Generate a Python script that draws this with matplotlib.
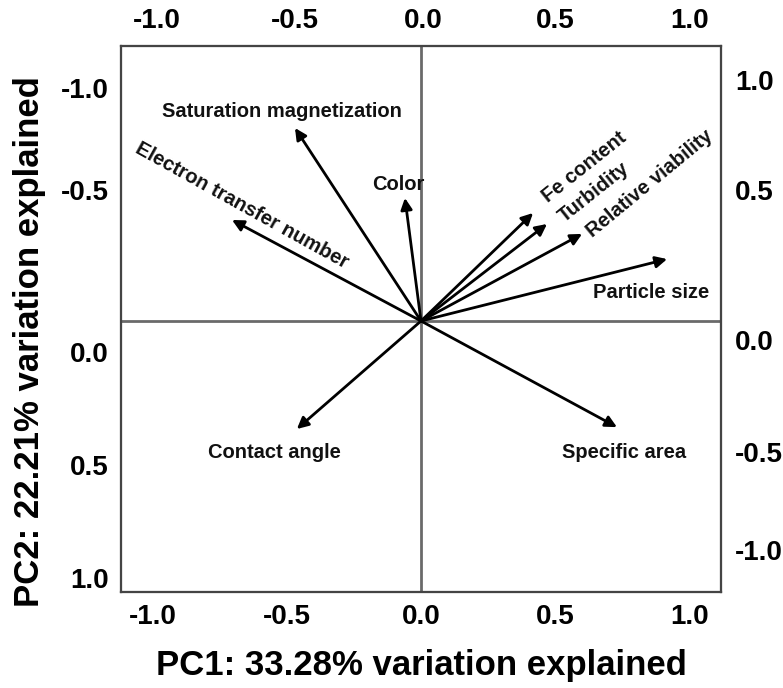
import matplotlib
matplotlib.use("Agg")
import matplotlib.pyplot as plt

plt.rcParams['font.family'] = ['Liberation Sans', 'DejaVu Sans']
plt.rcParams['font.weight'] = 'bold'

# ---- data: PCA loadings (PC1, PC2) ----
variables = ["Saturation magnetization", "Electron transfer number", "Color",
             "Fe content", "Turbidity", "Relative viability", "Particle size",
             "Contact angle", "Specific area"]
pc1 = [-0.470, -0.705, -0.060, 0.418, 0.470, 0.601, 0.918, -0.463, 0.731]
pc2 = [0.720, 0.377, 0.459, 0.403, 0.362, 0.325, 0.231, -0.403, -0.396]

bottom_ticks = [-1.0, -0.5, 0.0, 0.5, 1.0]
bottom_labels = ["-1.0", "-0.5", "0.0", "0.5", "1.0"]
top_ticks = [-0.985, -0.47, 0.01, 0.5, 1.0]
top_labels = ["-1.0", "-0.5", "0.0", "0.5", "1.0"]
left_ticks = [0.869, 0.489, -0.116, -0.537, -0.959]
left_labels = ["-1.0", "-0.5", "0.0", "0.5", "1.0"]
right_ticks = [0.899, 0.489, -0.071, -0.489, -0.854]
right_labels = ["1.0", "0.5", "0.0", "-0.5", "-1.0"]

xlabel = "PC1: 33.28% variation explained"
ylabel = "PC2: 22.21% variation explained"

# ---- layout (label offsets in pixels from arrow tip, rotation) ----
label_layout = {
    "Saturation magnetization": ((-13, 17), 0),
    "Electron transfer number": ((10, 14), -29),
    "Color": ((-7, 13), 0),
    "Fe content": ((51, 46), 38.5),
    "Turbidity": ((47, 32), 38.5),
    "Relative viability": ((68, 50), 39.5),
    "Particle size": ((-16, -33), 0),
    "Contact angle": ((-22, -23), 0),
    "Specific area": ((7, -25), 0),
}

W, H = 783, 688
fig = plt.figure(figsize=(W / 100, H / 100), dpi=100)
L, R, T, B = 121, 721, 46, 592
ax = fig.add_axes([L / W, 1 - B / H, (R - L) / W, (B - T) / H])

xlim = (-1.119, 1.119)
ylim = (-1.011, 1.026)
ax.set_xlim(*xlim)
ax.set_ylim(*ylim)

ax.axhline(0, color='#6a6a6a', lw=2.0, zorder=1)
ax.axvline(0, color='#6a6a6a', lw=2.0, zorder=1)

for name, x, y in zip(variables, pc1, pc2):
    ax.annotate('', xy=(x, y), xytext=(0, 0),
                arrowprops=dict(arrowstyle='-|>', color='black', lw=2.0,
                                mutation_scale=17, shrinkA=0, shrinkB=0),
                zorder=3)
    off, rot = label_layout[name]
    ax.annotate(name, xy=(x, y), xytext=off, textcoords='offset pixels',
                ha='center', va='center', rotation=rot, fontsize=14.5,
                fontweight='bold', color='#111111', zorder=4)

for sp in ax.spines.values():
    sp.set_color('#444444')
    sp.set_linewidth(1.5)

tick_font = dict(fontsize=20, fontweight='bold')
ax.set_xticks(bottom_ticks)
ax.set_xticklabels(bottom_labels, **tick_font)
ax.set_yticks(left_ticks)
ax.set_yticklabels(left_labels, **tick_font)
ax.tick_params(axis='both', length=0)
ax.tick_params(axis='x', pad=9)
ax.tick_params(axis='y', pad=9)

axt = ax.twiny()
axt.set_xlim(*xlim)
axt.set_xticks(top_ticks)
axt.set_xticklabels(top_labels, **tick_font)
axt.tick_params(axis='x', length=0, pad=9)

axr = ax.twinx()
axr.set_ylim(*ylim)
axr.set_yticks(right_ticks)
axr.set_yticklabels(right_labels, **tick_font)
axr.tick_params(axis='y', length=0, pad=10)
for a in (axt, axr):
    for sp in a.spines.values():
        sp.set_color('#444444')
        sp.set_linewidth(1.5)

ax.set_xlabel(xlabel, fontsize=25, fontweight='bold', va='center')
ax.xaxis.set_label_coords(0.5, (B - 665) / (B - T))
ax.set_ylabel(ylabel, fontsize=25, fontweight='bold', va='center')
ax.yaxis.set_label_coords((30 - L) / (R - L), 1 - (342 - T) / (B - T))

fig.savefig("out.png", dpi=100)
